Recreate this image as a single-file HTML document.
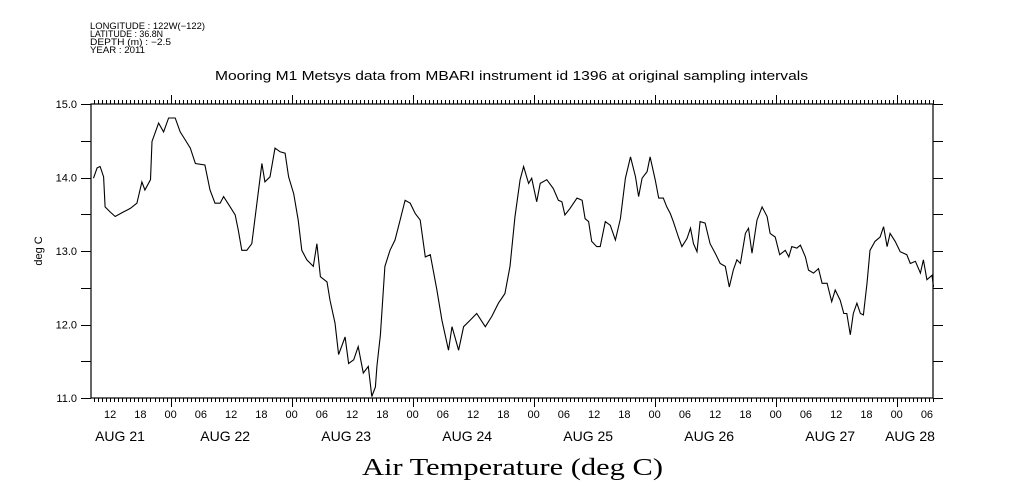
<!DOCTYPE html>
<html><head><meta charset="utf-8">
<style>
body{margin:0;background:#fff;}
svg{display:block;font-family:"Liberation Sans",sans-serif;}
</style></head>
<body>
<svg id="chart" width="1009" height="504" viewBox="0 0 1009 504" xmlns="http://www.w3.org/2000/svg">
<g font-size="9" fill="#000">
<text x="90" y="29" textLength="115" lengthAdjust="spacingAndGlyphs">LONGITUDE : 122W(−122)</text>
<text x="90" y="37" textLength="73" lengthAdjust="spacingAndGlyphs">LATITUDE : 36.8N</text>
<text x="90" y="45" textLength="81" lengthAdjust="spacingAndGlyphs">DEPTH (m) : −2.5</text>
<text x="90" y="53" textLength="55" lengthAdjust="spacingAndGlyphs">YEAR : 2011</text>
</g>
<text x="215" y="80" font-size="13" textLength="593" lengthAdjust="spacingAndGlyphs">Mooring M1 Metsys data from MBARI instrument id 1396 at original sampling intervals</text>
<text x="362" y="475" font-size="24" textLength="301" lengthAdjust="spacingAndGlyphs" font-family="Liberation Serif,serif">Air Temperature (deg C)</text>
<text transform="translate(42,251) rotate(-90)" font-size="11" text-anchor="middle">deg C</text>
<rect x="91" y="104" width="842" height="294" fill="none" stroke="#000" stroke-width="1.2"/>
<g id="axes"></g>
<path id="series" fill="none" stroke="#000" stroke-width="1.1"/>
</svg>
<script>
const hours=[8.7,9.4,10.0,10.7,11.0,12.0,13.0,14.6,16.0,17.3,18.3,18.9,20.0,20.3,21.6,22.6,23.6,24.9,25.9,26.9,27.9,28.9,30.8,31.8,32.8,33.8,34.5,35.8,36.8,37.4,38.1,39.1,40.1,41.1,42.1,42.7,43.7,44.7,45.7,46.7,47.4,48.4,49.3,50.0,51.0,52.3,53.0,53.7,55.0,55.6,56.6,57.3,58.6,59.3,60.3,61.2,62.2,63.2,63.9,64.6,64.9,65.6,66.5,67.5,68.5,69.5,70.5,71.5,72.5,73.5,74.5,75.5,76.8,77.8,79.1,79.8,81.1,82.1,83.4,84.7,86.4,87.7,89.0,90.3,91.3,92.3,93.3,94.0,95.0,95.6,96.6,97.3,98.6,99.9,100.9,101.6,102.2,103.2,104.6,105.6,106.2,106.9,107.5,108.5,109.2,110.2,111.2,112.2,113.2,114.2,115.2,116.2,116.8,117.5,118.5,119.1,120.1,120.8,121.7,122.4,123.1,123.7,124.7,125.4,126.4,127.1,127.7,128.4,129.0,130.0,131.0,132.0,133.0,134.0,134.8,135.6,136.3,137.0,138.0,138.6,139.3,140.3,141.3,142.3,142.9,143.9,144.8,145.9,146.6,147.2,148.2,148.9,149.9,150.5,151.5,152.5,153.2,154.2,155.1,155.8,156.8,157.5,158.1,158.8,159.4,160.1,160.8,161.4,162.1,162.7,163.7,164.7,165.4,166.1,166.7,167.7,168.7,170.0,170.7,171.7,172.7,173.3,174.0,175.0,175.3];
const temps=[13.99,14.13,14.15,14.01,13.60,13.53,13.47,13.53,13.58,13.65,13.94,13.83,13.97,14.49,14.74,14.62,14.81,14.81,14.62,14.51,14.40,14.19,14.17,13.83,13.65,13.65,13.74,13.60,13.49,13.29,13.01,13.01,13.10,13.65,14.19,13.94,14.01,14.40,14.35,14.33,14.01,13.78,13.42,13.01,12.88,12.79,13.10,12.65,12.58,12.33,12.02,11.59,11.83,11.47,11.52,11.70,11.34,11.43,11.02,11.15,11.43,11.86,12.79,13.01,13.15,13.42,13.69,13.65,13.51,13.42,12.92,12.95,12.47,12.06,11.65,11.97,11.65,11.97,12.06,12.15,11.97,12.11,12.29,12.42,12.79,13.47,13.97,14.15,13.92,13.99,13.67,13.92,13.97,13.85,13.69,13.67,13.49,13.58,13.72,13.69,13.44,13.40,13.13,13.06,13.06,13.40,13.35,13.15,13.44,13.99,14.28,14.01,13.74,13.99,14.08,14.28,13.97,13.72,13.72,13.60,13.51,13.40,13.19,13.06,13.17,13.31,13.10,12.99,13.40,13.38,13.10,12.97,12.83,12.79,12.51,12.74,12.88,12.83,13.24,13.31,12.97,13.42,13.60,13.47,13.24,13.19,12.95,13.01,12.92,13.06,13.04,13.08,12.92,12.74,12.70,12.76,12.56,12.56,12.31,12.47,12.33,12.15,12.15,11.86,12.15,12.29,12.15,12.13,12.56,13.01,13.13,13.19,13.33,13.06,13.24,13.13,12.99,12.95,12.83,12.86,12.70,12.88,12.61,12.67,12.51];
const yTicks=["11.0","12.0","13.0","14.0","15.0"];
const hourLabels=["12","18","00","06"];
const dayLabels=["AUG 21","AUG 22","AUG 23","AUG 24","AUG 25","AUG 26","AUG 27","AUG 28"];

const X0=91,X1=933,Y0=104,Y1=398;
const H0=8.2,H1=175.2,T0=11,T1=15;
function xs(h){return X0+(h-H0)/(H1-H0)*(X1-X0);}
function ys(t){return Y1-(t-T0)/(T1-T0)*(Y1-Y0);}
const NS="http://www.w3.org/2000/svg";
const axes=document.getElementById('axes');
function line(x1,y1,x2,y2,name){const l=document.createElementNS(NS,'line');l.setAttribute('x1',x1);l.setAttribute('y1',y1);l.setAttribute('x2',x2);l.setAttribute('y2',y2);l.setAttribute('stroke','#000');l.setAttribute('stroke-width','1');


axes.appendChild(l);}
function text(x,y,s,size,anchor,name){const t=document.createElementNS(NS,'text');t.setAttribute('x',x);t.setAttribute('y',y);t.setAttribute('font-size',size);t.setAttribute('text-anchor',anchor);t.textContent=s;


axes.appendChild(t);}
for(let v=T0;v<=T1+1e-9;v+=0.5){const y=Math.round(ys(v))+0.5;line(X0-10,y,X0,y,'y-tick');line(X1,y,X1+10,y,'y-tick-right');}
yTicks.forEach(s=>{text(X0-14,ys(parseFloat(s))+4,s,11,'end','y-tick-label');});
for(let i=Math.ceil(H0*30/24);i<=H1*30/24;i++){const h=i*24/30;const x=Math.round(xs(h))+0.5;const major=(i%30===0);const len=major?9:4;line(x,Y1,x,Y1+len,'x-tick');line(x,Y0,x,Y0-len,'x-tick-top');}
for(let h=12;h<=H1;h+=6){const lab=hourLabels[((h%24)/6+2)%4];text(xs(h),418,lab,11,'middle','hour-label');}
dayLabels.forEach((s,i)=>{let cx=xs(i*24+12)-6;if(i===0)cx=120;if(i===dayLabels.length-1)cx=910;text(cx,441,s,14,'middle','date-label');});
let d='';hours.forEach((h,i)=>{d+=(i?'L':'M')+xs(h).toFixed(1)+','+ys(temps[i]).toFixed(1);});
document.getElementById('series').setAttribute('d',d);
</script>
</body></html>
